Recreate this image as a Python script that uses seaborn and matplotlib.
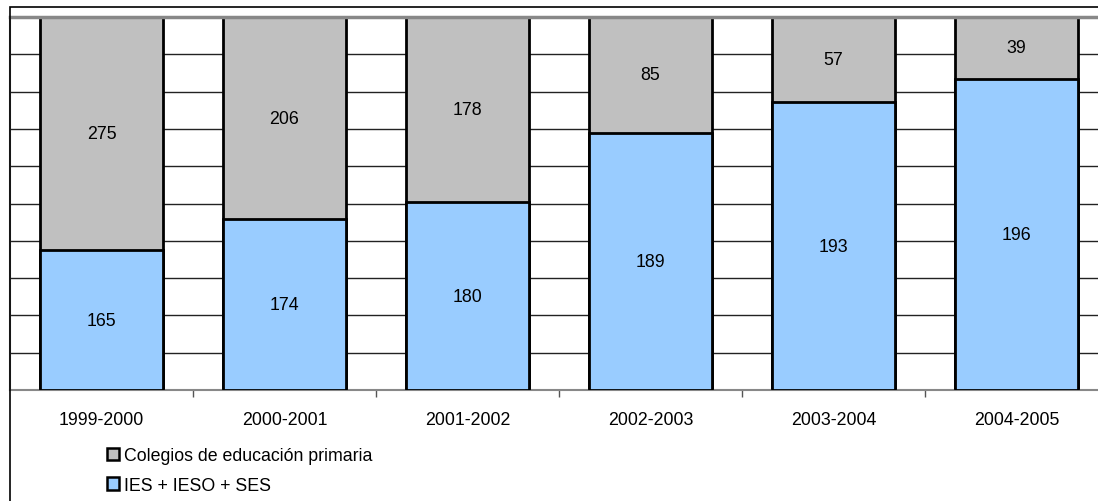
import matplotlib
matplotlib.use("Agg")
import matplotlib.pyplot as plt
import seaborn as sns
import pandas as pd
import numpy as np
from matplotlib.patches import Rectangle, Patch

years = ["1999-2000", "2000-2001", "2001-2002", "2002-2003", "2003-2004", "2004-2005"]
colegios = [275, 206, 178, 85, 57, 39]
ies = [165, 174, 180, 189, 193, 196]

sns.set_theme(style="white")
plt.rcParams['font.family'] = ['Liberation Sans', 'DejaVu Sans']
plt.rcParams['text.color'] = 'black'
plt.rcParams['xtick.color'] = 'black'

W, H = 1098, 502
fig = plt.figure(figsize=(W / 100, H / 100), dpi=100)
ax = fig.add_axes([10 / W, (H - 391) / H, 1098 / W, 373 / H])

total = np.array(colegios) + np.array(ies)
df = pd.DataFrame({
    "year": years,
    "top": [1.0] * len(years),
    "blue": np.array(ies) / total,
})

gray = "#C0C0C0"
blue = "#99CCFF"
FS = 12.8

for y in np.arange(0.1, 1.0, 0.1):
    ax.axhline(y, color="#222222", lw=1.0, zorder=0)

sns.barplot(data=df, x="year", y="top", color=gray, width=0.67,
            edgecolor="black", linewidth=2, saturation=1, ax=ax, zorder=2)
sns.barplot(data=df, x="year", y="blue", color=blue, width=0.67,
            edgecolor="black", linewidth=2, saturation=1, ax=ax, zorder=3)

for i in range(len(years)):
    b = df["blue"][i]
    ax.text(i, b / 2, str(ies[i]), ha="center", va="center", fontsize=FS, zorder=5)
    ax.text(i, b + (1 - b) / 2, str(colegios[i]), ha="center", va="center", fontsize=FS, zorder=5)

ax.set_xlim(-0.5, 5.5)
ax.set_ylim(0, 1)
ax.set_xlabel("")
ax.set_ylabel("")
ax.set_yticks([])
ax.set_xticks(range(len(years)))
ax.set_xticklabels(years, fontsize=FS, color="black")
ax.set_xticks(np.arange(0.5, 5.5, 1), minor=True)
ax.tick_params(axis="x", which="major", length=0, pad=15)
ax.tick_params(axis="x", which="minor", length=5, width=1, color="#555555", direction="out", bottom=True)

for s in ["left", "bottom"]:
    ax.spines[s].set_color("#888888")
    ax.spines[s].set_linewidth(1.5)
ax.spines["top"].set_color("#888888")
ax.spines["top"].set_linewidth(2.5)
ax.spines["right"].set_visible(False)

# outer chart frame
fig.patches.append(Rectangle((10 / W, -0.01), 1.1, (H - 8) / H + 0.01, transform=fig.transFigure,
                             fill=False, edgecolor="black", lw=1.2, zorder=10))

handles = [Patch(facecolor=gray, edgecolor="black", lw=1.8, label="Colegios de educación primaria"),
           Patch(facecolor=blue, edgecolor="black", lw=1.8, label="IES + IESO + SES")]
fig.legend(handles=handles, loc="upper left", bbox_to_anchor=(107 / W, 1 - 448 / H),
           frameon=False, fontsize=FS, handlelength=0.7, handleheight=0.7,
           handletextpad=0.25, labelspacing=0.72, borderpad=0, borderaxespad=0)

fig.savefig("out.png", dpi=100)
